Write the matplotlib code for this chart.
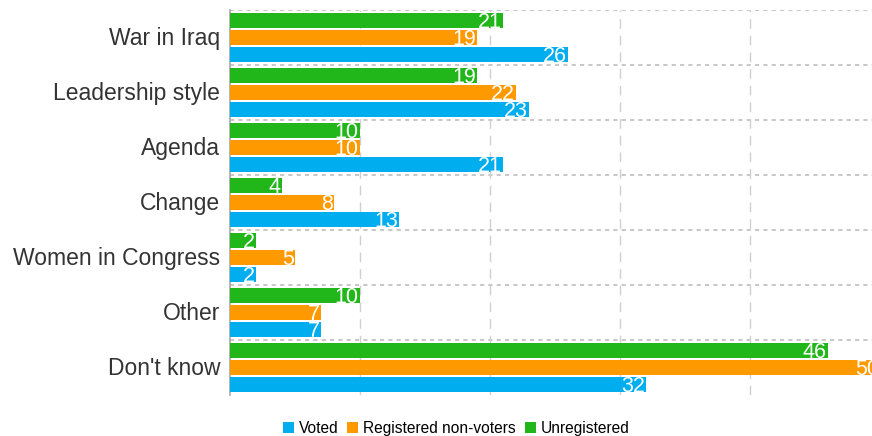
import numpy as np
import matplotlib
matplotlib.use('Agg')
import matplotlib.pyplot as plt

plt.rcParams['font.family'] = ['Liberation Sans', 'DejaVu Sans']

### DATA
categories = ['War in Iraq', 'Leadership style', 'Agenda', 'Change',
              'Women in Congress', 'Other', "Don't know"]
voted = [26, 23, 21, 13, 2, 7, 32]
registered_non_voters = [19, 22, 10, 8, 5, 7, 50]
unregistered = [21, 19, 10, 4, 2, 10, 46]

series_names = ['Voted', 'Registered non-voters', 'Unregistered']
series_values = [voted, registered_non_voters, unregistered]
colors = ['#00ADEF', '#FF9900', '#21B71A']
offsets = [0.31, 0.0, -0.31]  # blue bottom, orange middle, green top

fig = plt.figure(figsize=(8.72, 4.36), dpi=100)
# axes runs past the right edge on purpose (the 50 bar is clipped like the original)
ax = fig.add_axes([230 / 872, 1 - 395 / 436, 650 / 872, 385 / 436])

y = np.arange(len(categories))
bar_h = 0.275

for name, vals, col, off in zip(series_names, series_values, colors, offsets):
    ax.barh(y + off, vals, height=bar_h, color=col, label=name, zorder=3)
    for yi, v in zip(y, vals):
        ax.text(v - 0.1, yi + off + 0.04, str(v), ha='right', va='center',
                color='white', fontsize=15.5, zorder=4)

ax.set_xlim(0, 50)
ax.set_ylim(len(categories) - 0.5, -0.5)
ax.set_yticks(y - 0.03)
ax.set_yticklabels(categories, fontsize=16.5, color='#333333')
ax.tick_params(axis='y', length=0, pad=7)
ax.set_xticks([10, 20, 30, 40])
ax.tick_params(axis='x', length=0, labelbottom=False)

ax.grid(axis='x', linestyle=(0, (7, 5)), color='#d0d0d0', linewidth=1, zorder=0)
for b in np.arange(-0.5, len(categories) - 0.5, 1.0):
    ax.axhline(b, color='#bdbdbd', linestyle=(0, (2.5, 2.5)), linewidth=1.2, zorder=1)

for s in ['top', 'right', 'bottom']:
    ax.spines[s].set_visible(False)
ax.spines['left'].set_color('#a8a8a8')
ax.spines['left'].set_linewidth(1.2)

handles, labels = ax.get_legend_handles_labels()
fig.legend(handles, labels, loc='center', bbox_to_anchor=(0.523, 0.017), ncol=3,
           frameon=False, fontsize=11.2, handlelength=0.7, handleheight=0.7,
           handletextpad=0.3, columnspacing=0.6)

fig.savefig('out.png', dpi=100)
